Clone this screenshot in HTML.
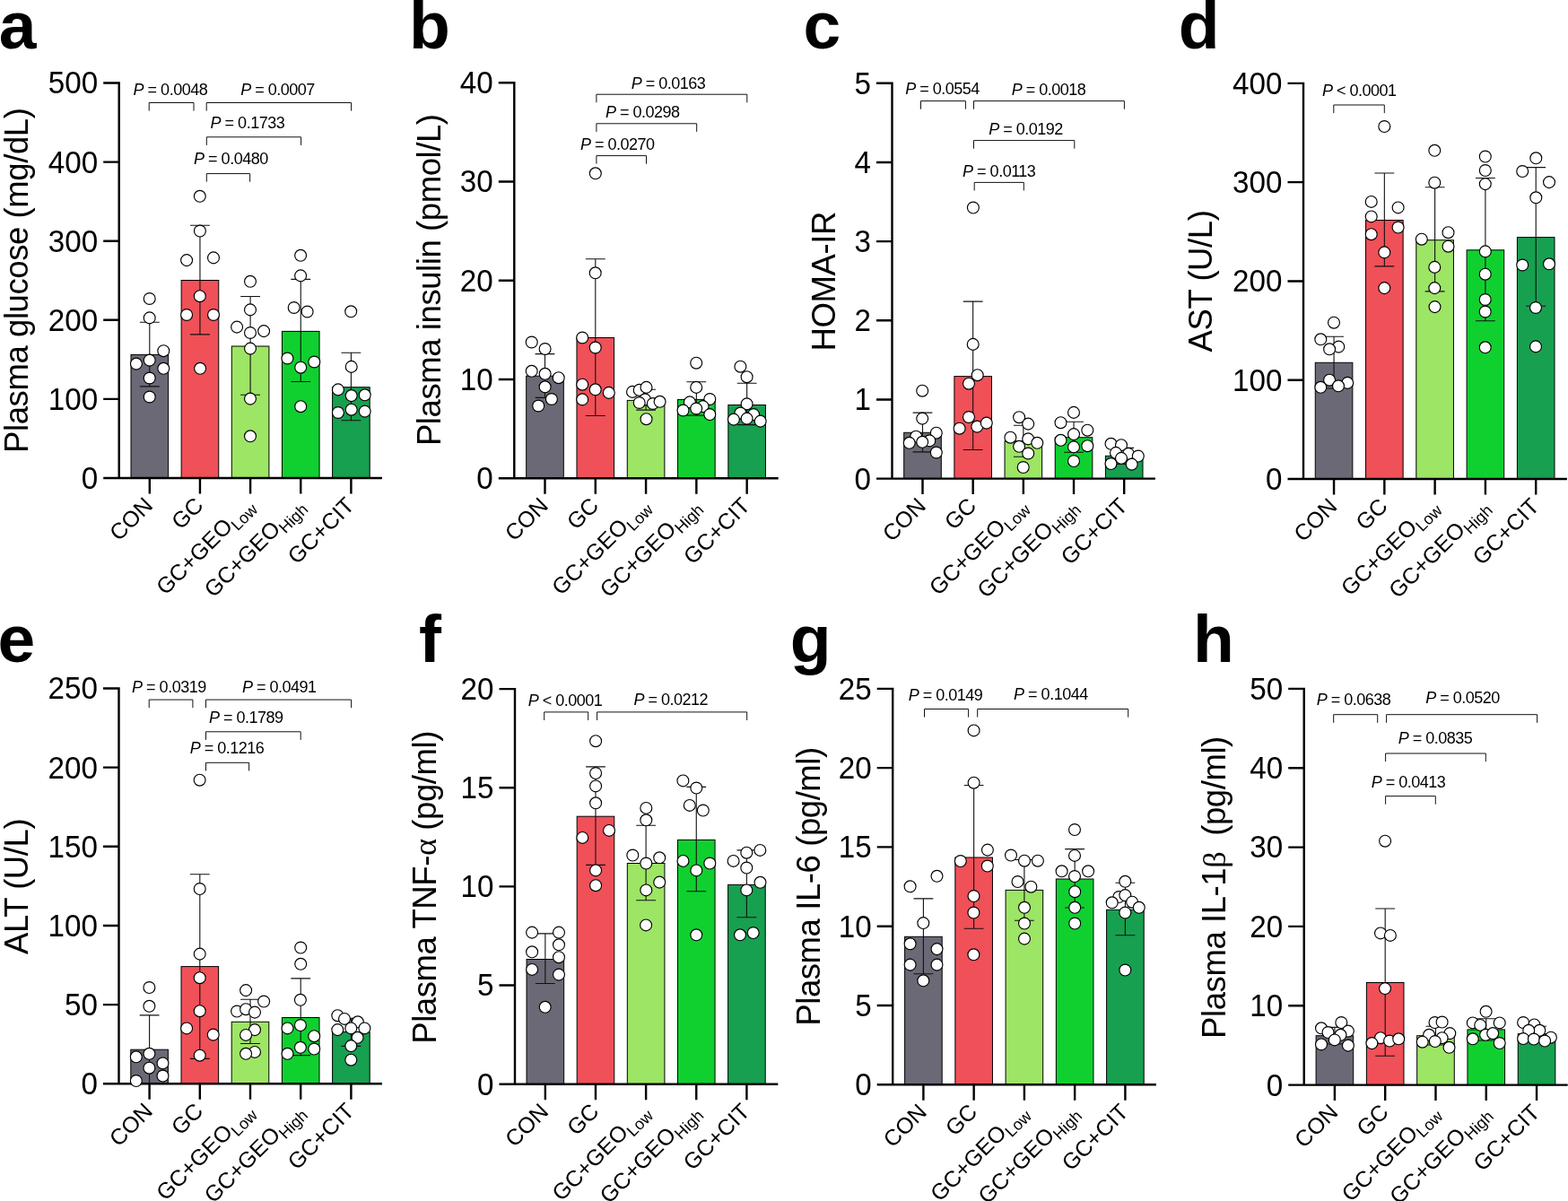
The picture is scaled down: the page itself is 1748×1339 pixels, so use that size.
<!DOCTYPE html><html><head><meta charset="utf-8"><title>Figure</title><style>
html,body{margin:0;padding:0;background:#fff;}body{width:1748px;height:1339px;overflow:hidden;}
svg{display:block;}text{font-family:'Liberation Sans', Arial, Helvetica, sans-serif;fill:#000;}
.tk{font-size:35.9px;text-anchor:end;}
.ti{font-size:36.5px;letter-spacing:-0.42px;}
.pv{font-size:18px;letter-spacing:-0.5px;}
.pv tspan.i{font-style:italic;}
.xl{font-size:25px;text-anchor:end;}
.lt{font-size:75px;font-weight:bold;}
.gk{font-family:"Liberation Serif","DejaVu Serif",serif;}
</style></head><body>
<svg width="1748" height="1339" viewBox="0 0 1748 1339">
<rect x="0" y="0" width="1748" height="1339" fill="#fff"/>
<g><text class="lt" x="-1.3" y="53.8">a</text><rect x="146" y="395.4" width="41.6" height="137.6" fill="#6a6975" stroke="#000" stroke-width="1"/><rect x="202.15" y="312.5" width="41.6" height="220.5" fill="#f05058" stroke="#000" stroke-width="1"/><rect x="258.3" y="386" width="41.6" height="147" fill="#9de564" stroke="#000" stroke-width="1"/><rect x="314.45" y="369.4" width="41.6" height="163.6" fill="#10d030" stroke="#000" stroke-width="1"/><rect x="370.6" y="431.7" width="41.6" height="101.3" fill="#17a050" stroke="#000" stroke-width="1"/><path d="M132.7 91.3V533M115.2 533H425.9M115.2 533H132.7M115.2 444.9H132.7M115.2 356.8H132.7M115.2 268.7H132.7M115.2 180.6H132.7M115.2 92.5H132.7M166.8 533V550.5M222.95 533V550.5M279.1 533V550.5M335.25 533V550.5M391.4 533V550.5" stroke="#000" stroke-width="2.4" fill="none" stroke-linecap="butt"/><path d="M166.8 359.3V430.9M155.9 359.3H177.7M155.9 430.9H177.7" stroke="#111" stroke-width="1.1" fill="none"/><path d="M222.95 251.3V372.9M212.05 251.3H233.85M212.05 372.9H233.85" stroke="#111" stroke-width="1.1" fill="none"/><path d="M279.1 330.5V440.3M268.2 330.5H290M268.2 440.3H290" stroke="#111" stroke-width="1.1" fill="none"/><path d="M335.25 311.4V425.5M324.35 311.4H346.15M324.35 425.5H346.15" stroke="#111" stroke-width="1.1" fill="none"/><path d="M391.4 393.3V468.8M380.5 393.3H402.3M380.5 468.8H402.3" stroke="#111" stroke-width="1.1" fill="none"/><circle fill="#fff" stroke="#000" stroke-width="1.15" cx="151.9" cy="405.6" r="6.45"/><circle fill="#fff" stroke="#000" stroke-width="1.15" cx="166.7" cy="333" r="6.45"/><circle fill="#fff" stroke="#000" stroke-width="1.15" cx="166.7" cy="354.4" r="6.45"/><circle fill="#fff" stroke="#000" stroke-width="1.15" cx="182.3" cy="391.2" r="6.45"/><circle fill="#fff" stroke="#000" stroke-width="1.15" cx="166.7" cy="401.6" r="6.45"/><circle fill="#fff" stroke="#000" stroke-width="1.15" cx="182.3" cy="410.8" r="6.45"/><circle fill="#fff" stroke="#000" stroke-width="1.15" cx="166.7" cy="421.5" r="6.45"/><circle fill="#fff" stroke="#000" stroke-width="1.15" cx="166.7" cy="442.5" r="6.45"/><circle fill="#fff" stroke="#000" stroke-width="1.15" cx="222.8" cy="218.8" r="6.45"/><circle fill="#fff" stroke="#000" stroke-width="1.15" cx="222.9" cy="257.5" r="6.45"/><circle fill="#fff" stroke="#000" stroke-width="1.15" cx="208.1" cy="290.1" r="6.45"/><circle fill="#fff" stroke="#000" stroke-width="1.15" cx="238" cy="287.4" r="6.45"/><circle fill="#fff" stroke="#000" stroke-width="1.15" cx="222.8" cy="330.2" r="6.45"/><circle fill="#fff" stroke="#000" stroke-width="1.15" cx="208.1" cy="351" r="6.45"/><circle fill="#fff" stroke="#000" stroke-width="1.15" cx="238" cy="351" r="6.45"/><circle fill="#fff" stroke="#000" stroke-width="1.15" cx="223.1" cy="410.8" r="6.45"/><circle fill="#fff" stroke="#000" stroke-width="1.15" cx="279" cy="313.8" r="6.45"/><circle fill="#fff" stroke="#000" stroke-width="1.15" cx="279" cy="345.4" r="6.45"/><circle fill="#fff" stroke="#000" stroke-width="1.15" cx="264.1" cy="364.6" r="6.45"/><circle fill="#fff" stroke="#000" stroke-width="1.15" cx="279" cy="371" r="6.45"/><circle fill="#fff" stroke="#000" stroke-width="1.15" cx="294.1" cy="369.1" r="6.45"/><circle fill="#fff" stroke="#000" stroke-width="1.15" cx="279" cy="388.6" r="6.45"/><circle fill="#fff" stroke="#000" stroke-width="1.15" cx="279" cy="444.6" r="6.45"/><circle fill="#fff" stroke="#000" stroke-width="1.15" cx="279" cy="486.3" r="6.45"/><circle fill="#fff" stroke="#000" stroke-width="1.15" cx="335.1" cy="284.8" r="6.45"/><circle fill="#fff" stroke="#000" stroke-width="1.15" cx="335.1" cy="307.4" r="6.45"/><circle fill="#fff" stroke="#000" stroke-width="1.15" cx="327.7" cy="343" r="6.45"/><circle fill="#fff" stroke="#000" stroke-width="1.15" cx="342.6" cy="347.5" r="6.45"/><circle fill="#fff" stroke="#000" stroke-width="1.15" cx="320.4" cy="399.5" r="6.45"/><circle fill="#fff" stroke="#000" stroke-width="1.15" cx="350.3" cy="403.5" r="6.45"/><circle fill="#fff" stroke="#000" stroke-width="1.15" cx="335.2" cy="409.7" r="6.45"/><circle fill="#fff" stroke="#000" stroke-width="1.15" cx="335.2" cy="453.2" r="6.45"/><circle fill="#fff" stroke="#000" stroke-width="1.15" cx="391.2" cy="347.3" r="6.45"/><circle fill="#fff" stroke="#000" stroke-width="1.15" cx="391.7" cy="408.9" r="6.45"/><circle fill="#fff" stroke="#000" stroke-width="1.15" cx="376.9" cy="434.4" r="6.45"/><circle fill="#fff" stroke="#000" stroke-width="1.15" cx="391.7" cy="441.1" r="6.45"/><circle fill="#fff" stroke="#000" stroke-width="1.15" cx="406.7" cy="440.3" r="6.45"/><circle fill="#fff" stroke="#000" stroke-width="1.15" cx="376.9" cy="460" r="6.45"/><circle fill="#fff" stroke="#000" stroke-width="1.15" cx="391.7" cy="456.7" r="6.45"/><circle fill="#fff" stroke="#000" stroke-width="1.15" cx="406.7" cy="458.6" r="6.45"/><text class="tk" transform="translate(109.1 544.9) scale(0.9246 1)">0</text><text class="tk" transform="translate(109.1 456.8) scale(0.9246 1)">100</text><text class="tk" transform="translate(109.1 368.7) scale(0.9246 1)">200</text><text class="tk" transform="translate(109.1 280.6) scale(0.9246 1)">300</text><text class="tk" transform="translate(109.1 192.5) scale(0.9246 1)">400</text><text class="tk" transform="translate(109.1 104.4) scale(0.9246 1)">500</text><path d="M166.2 123.6V114.5H216V123.6" stroke="#111" stroke-width="1.0" fill="none"/><text class="pv" x="148.6" y="105.8"><tspan class="i">P</tspan> = 0.0048</text><path d="M230.2 123.6V114.5H391.6V123.6" stroke="#111" stroke-width="1.0" fill="none"/><text class="pv" x="268.2" y="105.5"><tspan class="i">P</tspan> = 0.0007</text><path d="M230.3 161.9V152.8H335.6V161.9" stroke="#111" stroke-width="1.0" fill="none"/><text class="pv" x="234.6" y="143.2"><tspan class="i">P</tspan> = 0.1733</text><path d="M230.3 202.7V193.6H278.6V202.7" stroke="#111" stroke-width="1.0" fill="none"/><text class="pv" x="216.1" y="182.9"><tspan class="i">P</tspan> = 0.0480</text><text class="ti" transform="translate(31.1 504.9) rotate(-90)" x="0" y="0">Plasma glucose (mg/dL)</text><text class="xl" transform="translate(171.8 565) rotate(-45)">CON</text><text class="xl" transform="translate(227.95 565) rotate(-45)">GC</text><text class="xl" transform="translate(284.1 565) rotate(-45)">GC+GEO<tspan font-size="18" dy="6">Low</tspan></text><text class="xl" transform="translate(340.25 565) rotate(-45)">GC+GEO<tspan font-size="18" dy="6">High</tspan></text><text class="xl" transform="translate(396.4 565) rotate(-45)">GC+CIT</text></g>
<g><text class="lt" x="456.1" y="53.8">b</text><rect x="586.7" y="419.2" width="41.6" height="114.1" fill="#6a6975" stroke="#000" stroke-width="1"/><rect x="642.99" y="376.5" width="41.6" height="156.8" fill="#f05058" stroke="#000" stroke-width="1"/><rect x="699.28" y="446.4" width="41.6" height="86.9" fill="#9de564" stroke="#000" stroke-width="1"/><rect x="755.56" y="445.4" width="41.6" height="87.9" fill="#10d030" stroke="#000" stroke-width="1"/><rect x="811.85" y="451.5" width="41.6" height="81.8" fill="#17a050" stroke="#000" stroke-width="1"/><path d="M573.3 91.1V533.3M555.8 533.3H867.7M555.8 533.3H573.3M555.8 423.05H573.3M555.8 312.8H573.3M555.8 202.55H573.3M555.8 92.3H573.3M607.5 533.3V550.8M663.79 533.3V550.8M720.08 533.3V550.8M776.36 533.3V550.8M832.65 533.3V550.8" stroke="#000" stroke-width="2.4" fill="none" stroke-linecap="butt"/><path d="M607.5 394.6V443.4M596.6 394.6H618.4M596.6 443.4H618.4" stroke="#111" stroke-width="1.1" fill="none"/><path d="M663.79 288.8V463.5M652.89 288.8H674.69M652.89 463.5H674.69" stroke="#111" stroke-width="1.1" fill="none"/><path d="M720.08 434.3V457.1M709.18 434.3H730.98M709.18 457.1H730.98" stroke="#111" stroke-width="1.1" fill="none"/><path d="M776.36 425.8V463.1M765.46 425.8H787.26M765.46 463.1H787.26" stroke="#111" stroke-width="1.1" fill="none"/><path d="M832.65 427.3V473.6M821.75 427.3H843.55M821.75 473.6H843.55" stroke="#111" stroke-width="1.1" fill="none"/><circle fill="#fff" stroke="#000" stroke-width="1.15" cx="592.7" cy="381.5" r="6.45"/><circle fill="#fff" stroke="#000" stroke-width="1.15" cx="607.6" cy="389" r="6.45"/><circle fill="#fff" stroke="#000" stroke-width="1.15" cx="592.7" cy="413.8" r="6.45"/><circle fill="#fff" stroke="#000" stroke-width="1.15" cx="607.6" cy="416.8" r="6.45"/><circle fill="#fff" stroke="#000" stroke-width="1.15" cx="622.7" cy="421.2" r="6.45"/><circle fill="#fff" stroke="#000" stroke-width="1.15" cx="607.6" cy="431.3" r="6.45"/><circle fill="#fff" stroke="#000" stroke-width="1.15" cx="614.9" cy="445" r="6.45"/><circle fill="#fff" stroke="#000" stroke-width="1.15" cx="600.2" cy="452.5" r="6.45"/><circle fill="#fff" stroke="#000" stroke-width="1.15" cx="663.8" cy="193.3" r="6.45"/><circle fill="#fff" stroke="#000" stroke-width="1.15" cx="663.7" cy="304.3" r="6.45"/><circle fill="#fff" stroke="#000" stroke-width="1.15" cx="649.2" cy="376.5" r="6.45"/><circle fill="#fff" stroke="#000" stroke-width="1.15" cx="663.7" cy="387.5" r="6.45"/><circle fill="#fff" stroke="#000" stroke-width="1.15" cx="649.2" cy="428.7" r="6.45"/><circle fill="#fff" stroke="#000" stroke-width="1.15" cx="663.7" cy="434.3" r="6.45"/><circle fill="#fff" stroke="#000" stroke-width="1.15" cx="678.8" cy="437.9" r="6.45"/><circle fill="#fff" stroke="#000" stroke-width="1.15" cx="649.2" cy="445.4" r="6.45"/><circle fill="#fff" stroke="#000" stroke-width="1.15" cx="705" cy="436.9" r="6.45"/><circle fill="#fff" stroke="#000" stroke-width="1.15" cx="712.7" cy="434.9" r="6.45"/><circle fill="#fff" stroke="#000" stroke-width="1.15" cx="720.5" cy="431.9" r="6.45"/><circle fill="#fff" stroke="#000" stroke-width="1.15" cx="719.1" cy="445.4" r="6.45"/><circle fill="#fff" stroke="#000" stroke-width="1.15" cx="712.7" cy="449" r="6.45"/><circle fill="#fff" stroke="#000" stroke-width="1.15" cx="727.8" cy="450" r="6.45"/><circle fill="#fff" stroke="#000" stroke-width="1.15" cx="735.6" cy="447.8" r="6.45"/><circle fill="#fff" stroke="#000" stroke-width="1.15" cx="720.5" cy="467.2" r="6.45"/><circle fill="#fff" stroke="#000" stroke-width="1.15" cx="776.2" cy="404.7" r="6.45"/><circle fill="#fff" stroke="#000" stroke-width="1.15" cx="776.2" cy="431.9" r="6.45"/><circle fill="#fff" stroke="#000" stroke-width="1.15" cx="768.9" cy="448.4" r="6.45"/><circle fill="#fff" stroke="#000" stroke-width="1.15" cx="791.3" cy="445" r="6.45"/><circle fill="#fff" stroke="#000" stroke-width="1.15" cx="783.6" cy="453.1" r="6.45"/><circle fill="#fff" stroke="#000" stroke-width="1.15" cx="776.2" cy="455.5" r="6.45"/><circle fill="#fff" stroke="#000" stroke-width="1.15" cx="761.5" cy="457.5" r="6.45"/><circle fill="#fff" stroke="#000" stroke-width="1.15" cx="791.3" cy="462.1" r="6.45"/><circle fill="#fff" stroke="#000" stroke-width="1.15" cx="825.4" cy="408.7" r="6.45"/><circle fill="#fff" stroke="#000" stroke-width="1.15" cx="832.6" cy="420.2" r="6.45"/><circle fill="#fff" stroke="#000" stroke-width="1.15" cx="832.6" cy="450.4" r="6.45"/><circle fill="#fff" stroke="#000" stroke-width="1.15" cx="825.4" cy="460.5" r="6.45"/><circle fill="#fff" stroke="#000" stroke-width="1.15" cx="840.1" cy="462.1" r="6.45"/><circle fill="#fff" stroke="#000" stroke-width="1.15" cx="832.6" cy="466.6" r="6.45"/><circle fill="#fff" stroke="#000" stroke-width="1.15" cx="817.9" cy="467.6" r="6.45"/><circle fill="#fff" stroke="#000" stroke-width="1.15" cx="847.7" cy="469.6" r="6.45"/><text class="tk" transform="translate(549.7 545.2) scale(0.9246 1)">0</text><text class="tk" transform="translate(549.7 434.95) scale(0.9246 1)">10</text><text class="tk" transform="translate(549.7 324.7) scale(0.9246 1)">20</text><text class="tk" transform="translate(549.7 214.45) scale(0.9246 1)">30</text><text class="tk" transform="translate(549.7 104.2) scale(0.9246 1)">40</text><path d="M664.9 114.3V105.2H832.8V114.3" stroke="#111" stroke-width="1.0" fill="none"/><text class="pv" x="703.8" y="99.3"><tspan class="i">P</tspan> = 0.0163</text><path d="M664.9 146.9V137.8H776.7V146.9" stroke="#111" stroke-width="1.0" fill="none"/><text class="pv" x="675" y="131.3"><tspan class="i">P</tspan> = 0.0298</text><path d="M664.9 182.7V173.6H720.5V182.7" stroke="#111" stroke-width="1.0" fill="none"/><text class="pv" x="647" y="166.6"><tspan class="i">P</tspan> = 0.0270</text><text class="ti" transform="translate(490.9 497.1) rotate(-90)" x="0" y="0">Plasma insulin (pmol/L)</text><text class="xl" transform="translate(612.5 565.3) rotate(-45)">CON</text><text class="xl" transform="translate(668.79 565.3) rotate(-45)">GC</text><text class="xl" transform="translate(725.08 565.3) rotate(-45)">GC+GEO<tspan font-size="18" dy="6">Low</tspan></text><text class="xl" transform="translate(781.36 565.3) rotate(-45)">GC+GEO<tspan font-size="18" dy="6">High</tspan></text><text class="xl" transform="translate(837.65 565.3) rotate(-45)">GC+CIT</text></g>
<g><text class="lt" x="895.5" y="53.8">c</text><rect x="1007.7" y="482.3" width="41.6" height="51.3" fill="#6a6975" stroke="#000" stroke-width="1"/><rect x="1063.88" y="419.6" width="41.6" height="114" fill="#f05058" stroke="#000" stroke-width="1"/><rect x="1120.05" y="491.8" width="41.6" height="41.8" fill="#9de564" stroke="#000" stroke-width="1"/><rect x="1176.23" y="487.7" width="41.6" height="45.9" fill="#10d030" stroke="#000" stroke-width="1"/><rect x="1232.4" y="508.3" width="41.6" height="25.3" fill="#17a050" stroke="#000" stroke-width="1"/><path d="M994.5 91.6V533.6M977 533.6H1287.9M977 533.6H994.5M977 445.44H994.5M977 357.28H994.5M977 269.12H994.5M977 180.96H994.5M977 92.8H994.5M1028.5 533.6V551.1M1084.67 533.6V551.1M1140.85 533.6V551.1M1197.03 533.6V551.1M1253.2 533.6V551.1" stroke="#000" stroke-width="2.4" fill="none" stroke-linecap="butt"/><path d="M1028.5 460.1V503.9M1017.6 460.1H1039.4M1017.6 503.9H1039.4" stroke="#111" stroke-width="1.1" fill="none"/><path d="M1084.67 336.1V501.5M1073.77 336.1H1095.58M1073.77 501.5H1095.58" stroke="#111" stroke-width="1.1" fill="none"/><path d="M1140.85 474.2V509.3M1129.95 474.2H1151.75M1129.95 509.3H1151.75" stroke="#111" stroke-width="1.1" fill="none"/><path d="M1197.03 470.2V504.3M1186.12 470.2H1207.93M1186.12 504.3H1207.93" stroke="#111" stroke-width="1.1" fill="none"/><path d="M1253.2 499.4V517.5M1242.3 499.4H1264.1M1242.3 517.5H1264.1" stroke="#111" stroke-width="1.1" fill="none"/><circle fill="#fff" stroke="#000" stroke-width="1.15" cx="1028.2" cy="435.7" r="6.45"/><circle fill="#fff" stroke="#000" stroke-width="1.15" cx="1028.2" cy="466.6" r="6.45"/><circle fill="#fff" stroke="#000" stroke-width="1.15" cx="1043.8" cy="482.7" r="6.45"/><circle fill="#fff" stroke="#000" stroke-width="1.15" cx="1021.2" cy="486.7" r="6.45"/><circle fill="#fff" stroke="#000" stroke-width="1.15" cx="1036.3" cy="491.4" r="6.45"/><circle fill="#fff" stroke="#000" stroke-width="1.15" cx="1013.7" cy="493.8" r="6.45"/><circle fill="#fff" stroke="#000" stroke-width="1.15" cx="1028.2" cy="492.8" r="6.45"/><circle fill="#fff" stroke="#000" stroke-width="1.15" cx="1043.8" cy="504.5" r="6.45"/><circle fill="#fff" stroke="#000" stroke-width="1.15" cx="1084.9" cy="231.5" r="6.45"/><circle fill="#fff" stroke="#000" stroke-width="1.15" cx="1084.7" cy="383.9" r="6.45"/><circle fill="#fff" stroke="#000" stroke-width="1.15" cx="1089.7" cy="418.2" r="6.45"/><circle fill="#fff" stroke="#000" stroke-width="1.15" cx="1080" cy="427.7" r="6.45"/><circle fill="#fff" stroke="#000" stroke-width="1.15" cx="1080" cy="465" r="6.45"/><circle fill="#fff" stroke="#000" stroke-width="1.15" cx="1069.6" cy="477.7" r="6.45"/><circle fill="#fff" stroke="#000" stroke-width="1.15" cx="1089.3" cy="475.6" r="6.45"/><circle fill="#fff" stroke="#000" stroke-width="1.15" cx="1099.8" cy="471.6" r="6.45"/><circle fill="#fff" stroke="#000" stroke-width="1.15" cx="1136.1" cy="465.2" r="6.45"/><circle fill="#fff" stroke="#000" stroke-width="1.15" cx="1146.2" cy="472.6" r="6.45"/><circle fill="#fff" stroke="#000" stroke-width="1.15" cx="1126.4" cy="487.7" r="6.45"/><circle fill="#fff" stroke="#000" stroke-width="1.15" cx="1146.2" cy="489.4" r="6.45"/><circle fill="#fff" stroke="#000" stroke-width="1.15" cx="1156.3" cy="493.8" r="6.45"/><circle fill="#fff" stroke="#000" stroke-width="1.15" cx="1136.1" cy="497.8" r="6.45"/><circle fill="#fff" stroke="#000" stroke-width="1.15" cx="1146.2" cy="505.5" r="6.45"/><circle fill="#fff" stroke="#000" stroke-width="1.15" cx="1140.7" cy="521" r="6.45"/><circle fill="#fff" stroke="#000" stroke-width="1.15" cx="1197" cy="459.9" r="6.45"/><circle fill="#fff" stroke="#000" stroke-width="1.15" cx="1182.5" cy="471.2" r="6.45"/><circle fill="#fff" stroke="#000" stroke-width="1.15" cx="1212.3" cy="479.7" r="6.45"/><circle fill="#fff" stroke="#000" stroke-width="1.15" cx="1197" cy="484.1" r="6.45"/><circle fill="#fff" stroke="#000" stroke-width="1.15" cx="1182.5" cy="490.8" r="6.45"/><circle fill="#fff" stroke="#000" stroke-width="1.15" cx="1197" cy="498.4" r="6.45"/><circle fill="#fff" stroke="#000" stroke-width="1.15" cx="1212.3" cy="497.2" r="6.45"/><circle fill="#fff" stroke="#000" stroke-width="1.15" cx="1197" cy="514" r="6.45"/><circle fill="#fff" stroke="#000" stroke-width="1.15" cx="1238.5" cy="494.8" r="6.45"/><circle fill="#fff" stroke="#000" stroke-width="1.15" cx="1250" cy="496.2" r="6.45"/><circle fill="#fff" stroke="#000" stroke-width="1.15" cx="1244" cy="504.9" r="6.45"/><circle fill="#fff" stroke="#000" stroke-width="1.15" cx="1258" cy="505.9" r="6.45"/><circle fill="#fff" stroke="#000" stroke-width="1.15" cx="1268.8" cy="508.5" r="6.45"/><circle fill="#fff" stroke="#000" stroke-width="1.15" cx="1250" cy="510.9" r="6.45"/><circle fill="#fff" stroke="#000" stroke-width="1.15" cx="1238.5" cy="517" r="6.45"/><circle fill="#fff" stroke="#000" stroke-width="1.15" cx="1261.7" cy="517.6" r="6.45"/><text class="tk" transform="translate(970.9 545.5) scale(0.9246 1)">0</text><text class="tk" transform="translate(970.9 457.34) scale(0.9246 1)">1</text><text class="tk" transform="translate(970.9 369.18) scale(0.9246 1)">2</text><text class="tk" transform="translate(970.9 281.02) scale(0.9246 1)">3</text><text class="tk" transform="translate(970.9 192.86) scale(0.9246 1)">4</text><text class="tk" transform="translate(970.9 104.7) scale(0.9246 1)">5</text><path d="M1026.5 121.7V112.6H1076.4V121.7" stroke="#111" stroke-width="1.0" fill="none"/><text class="pv" x="1009.3" y="104.9"><tspan class="i">P</tspan> = 0.0554</text><path d="M1085.5 121.7V112.6H1253.4V121.7" stroke="#111" stroke-width="1.0" fill="none"/><text class="pv" x="1127.8" y="106"><tspan class="i">P</tspan> = 0.0018</text><path d="M1085.5 165.7V156.6H1197.8V165.7" stroke="#111" stroke-width="1.0" fill="none"/><text class="pv" x="1102.2" y="150.1"><tspan class="i">P</tspan> = 0.0192</text><path d="M1086.2 212.5V203.4H1141.3V212.5" stroke="#111" stroke-width="1.0" fill="none"/><text class="pv" x="1073.1" y="197.3"><tspan class="i">P</tspan> = 0.0113</text><text class="ti" transform="translate(931.1 391.4) rotate(-90)" x="0" y="0">HOMA-IR</text><text class="xl" transform="translate(1033.5 565.6) rotate(-45)">CON</text><text class="xl" transform="translate(1089.67 565.6) rotate(-45)">GC</text><text class="xl" transform="translate(1145.85 565.6) rotate(-45)">GC+GEO<tspan font-size="18" dy="6">Low</tspan></text><text class="xl" transform="translate(1202.03 565.6) rotate(-45)">GC+GEO<tspan font-size="18" dy="6">High</tspan></text><text class="xl" transform="translate(1258.2 565.6) rotate(-45)">GC+CIT</text></g>
<g><text class="lt" x="1313.7" y="53.8">d</text><rect x="1466.25" y="404.3" width="41.6" height="129.7" fill="#6a6975" stroke="#000" stroke-width="1"/><rect x="1522.54" y="245.5" width="41.6" height="288.5" fill="#f05058" stroke="#000" stroke-width="1"/><rect x="1578.83" y="267.7" width="41.6" height="266.3" fill="#9de564" stroke="#000" stroke-width="1"/><rect x="1635.11" y="278.8" width="41.6" height="255.2" fill="#10d030" stroke="#000" stroke-width="1"/><rect x="1691.4" y="264.6" width="41.6" height="269.4" fill="#17a050" stroke="#000" stroke-width="1"/><path d="M1453 91.7V534M1435.5 534H1746.9M1435.5 534H1453M1435.5 423.73H1453M1435.5 313.45H1453M1435.5 203.17H1453M1435.5 92.9H1453M1487.05 534V551.5M1543.34 534V551.5M1599.62 534V551.5M1655.91 534V551.5M1712.2 534V551.5" stroke="#000" stroke-width="2.4" fill="none" stroke-linecap="butt"/><path d="M1487.05 375.3V433M1476.15 375.3H1497.95M1476.15 433H1497.95" stroke="#111" stroke-width="1.1" fill="none"/><path d="M1543.34 193V296.9M1532.44 193H1554.24M1532.44 296.9H1554.24" stroke="#111" stroke-width="1.1" fill="none"/><path d="M1599.62 208.8V324.9M1588.72 208.8H1610.53M1588.72 324.9H1610.53" stroke="#111" stroke-width="1.1" fill="none"/><path d="M1655.91 198.5V357.7M1645.01 198.5H1666.81M1645.01 357.7H1666.81" stroke="#111" stroke-width="1.1" fill="none"/><path d="M1712.2 186.6V341.2M1701.3 186.6H1723.1M1701.3 341.2H1723.1" stroke="#111" stroke-width="1.1" fill="none"/><circle fill="#fff" stroke="#000" stroke-width="1.15" cx="1487" cy="359.7" r="6.45"/><circle fill="#fff" stroke="#000" stroke-width="1.15" cx="1472.3" cy="378.3" r="6.45"/><circle fill="#fff" stroke="#000" stroke-width="1.15" cx="1492.3" cy="386.6" r="6.45"/><circle fill="#fff" stroke="#000" stroke-width="1.15" cx="1482.1" cy="389.3" r="6.45"/><circle fill="#fff" stroke="#000" stroke-width="1.15" cx="1482.1" cy="423.7" r="6.45"/><circle fill="#fff" stroke="#000" stroke-width="1.15" cx="1502.2" cy="426.9" r="6.45"/><circle fill="#fff" stroke="#000" stroke-width="1.15" cx="1472.3" cy="431.8" r="6.45"/><circle fill="#fff" stroke="#000" stroke-width="1.15" cx="1492" cy="430.3" r="6.45"/><circle fill="#fff" stroke="#000" stroke-width="1.15" cx="1543.3" cy="141" r="6.45"/><circle fill="#fff" stroke="#000" stroke-width="1.15" cx="1528.7" cy="224.9" r="6.45"/><circle fill="#fff" stroke="#000" stroke-width="1.15" cx="1558.6" cy="231.4" r="6.45"/><circle fill="#fff" stroke="#000" stroke-width="1.15" cx="1528.7" cy="241.4" r="6.45"/><circle fill="#fff" stroke="#000" stroke-width="1.15" cx="1558.6" cy="253.5" r="6.45"/><circle fill="#fff" stroke="#000" stroke-width="1.15" cx="1528.7" cy="261.2" r="6.45"/><circle fill="#fff" stroke="#000" stroke-width="1.15" cx="1543.3" cy="281.4" r="6.45"/><circle fill="#fff" stroke="#000" stroke-width="1.15" cx="1543.3" cy="321.1" r="6.45"/><circle fill="#fff" stroke="#000" stroke-width="1.15" cx="1599.3" cy="167.8" r="6.45"/><circle fill="#fff" stroke="#000" stroke-width="1.15" cx="1599.3" cy="203.7" r="6.45"/><circle fill="#fff" stroke="#000" stroke-width="1.15" cx="1614.5" cy="259.2" r="6.45"/><circle fill="#fff" stroke="#000" stroke-width="1.15" cx="1584.8" cy="266.7" r="6.45"/><circle fill="#fff" stroke="#000" stroke-width="1.15" cx="1614.5" cy="274.7" r="6.45"/><circle fill="#fff" stroke="#000" stroke-width="1.15" cx="1599.3" cy="297.9" r="6.45"/><circle fill="#fff" stroke="#000" stroke-width="1.15" cx="1599.3" cy="321.1" r="6.45"/><circle fill="#fff" stroke="#000" stroke-width="1.15" cx="1599.5" cy="342.1" r="6.45"/><circle fill="#fff" stroke="#000" stroke-width="1.15" cx="1655.8" cy="174.5" r="6.45"/><circle fill="#fff" stroke="#000" stroke-width="1.15" cx="1655.8" cy="190" r="6.45"/><circle fill="#fff" stroke="#000" stroke-width="1.15" cx="1655.8" cy="205.1" r="6.45"/><circle fill="#fff" stroke="#000" stroke-width="1.15" cx="1655.8" cy="280.4" r="6.45"/><circle fill="#fff" stroke="#000" stroke-width="1.15" cx="1655.7" cy="305.7" r="6.45"/><circle fill="#fff" stroke="#000" stroke-width="1.15" cx="1655.7" cy="334" r="6.45"/><circle fill="#fff" stroke="#000" stroke-width="1.15" cx="1655.7" cy="347.5" r="6.45"/><circle fill="#fff" stroke="#000" stroke-width="1.15" cx="1655.7" cy="387.3" r="6.45"/><circle fill="#fff" stroke="#000" stroke-width="1.15" cx="1712.3" cy="176.3" r="6.45"/><circle fill="#fff" stroke="#000" stroke-width="1.15" cx="1697.2" cy="191" r="6.45"/><circle fill="#fff" stroke="#000" stroke-width="1.15" cx="1727" cy="203.1" r="6.45"/><circle fill="#fff" stroke="#000" stroke-width="1.15" cx="1712.3" cy="220.3" r="6.45"/><circle fill="#fff" stroke="#000" stroke-width="1.15" cx="1697.2" cy="295.5" r="6.45"/><circle fill="#fff" stroke="#000" stroke-width="1.15" cx="1727" cy="294.3" r="6.45"/><circle fill="#fff" stroke="#000" stroke-width="1.15" cx="1712" cy="343" r="6.45"/><circle fill="#fff" stroke="#000" stroke-width="1.15" cx="1712" cy="386.4" r="6.45"/><text class="tk" transform="translate(1429.4 545.9) scale(0.9246 1)">0</text><text class="tk" transform="translate(1429.4 435.62) scale(0.9246 1)">100</text><text class="tk" transform="translate(1429.4 325.35) scale(0.9246 1)">200</text><text class="tk" transform="translate(1429.4 215.07) scale(0.9246 1)">300</text><text class="tk" transform="translate(1429.4 104.8) scale(0.9246 1)">400</text><path d="M1486.8 126.1V117H1543.3V126.1" stroke="#111" stroke-width="1.0" fill="none"/><text class="pv" x="1474" y="107.3"><tspan class="i">P</tspan> &lt; 0.0001</text><text class="ti" transform="translate(1351 392.4) rotate(-90)" x="0" y="0">AST (U/L)</text><text class="xl" transform="translate(1492.05 566) rotate(-45)">CON</text><text class="xl" transform="translate(1548.34 566) rotate(-45)">GC</text><text class="xl" transform="translate(1604.62 566) rotate(-45)">GC+GEO<tspan font-size="18" dy="6">Low</tspan></text><text class="xl" transform="translate(1660.91 566) rotate(-45)">GC+GEO<tspan font-size="18" dy="6">High</tspan></text><text class="xl" transform="translate(1717.2 566) rotate(-45)">GC+CIT</text></g>
<g><text class="lt" x="-2.5" y="737.9">e</text><rect x="145.8" y="1170.2" width="41.6" height="38.1" fill="#6a6975" stroke="#000" stroke-width="1"/><rect x="202" y="1077.6" width="41.6" height="130.7" fill="#f05058" stroke="#000" stroke-width="1"/><rect x="258.2" y="1139.3" width="41.6" height="69" fill="#9de564" stroke="#000" stroke-width="1"/><rect x="314.4" y="1134.5" width="41.6" height="73.8" fill="#10d030" stroke="#000" stroke-width="1"/><rect x="370.6" y="1150.6" width="41.6" height="57.7" fill="#17a050" stroke="#000" stroke-width="1"/><path d="M132.5 766.3V1208.3M115 1208.3H425.9M115 1208.3H132.5M115 1120.14H132.5M115 1031.98H132.5M115 943.82H132.5M115 855.66H132.5M115 767.5H132.5M166.6 1208.3V1225.8M222.8 1208.3V1225.8M279 1208.3V1225.8M335.2 1208.3V1225.8M391.4 1208.3V1225.8" stroke="#000" stroke-width="2.4" fill="none" stroke-linecap="butt"/><path d="M166.6 1131.9V1208.3M155.7 1131.9H177.5M155.7 1208.3H177.5" stroke="#111" stroke-width="1.1" fill="none"/><path d="M222.8 974.7V1180.4M211.9 974.7H233.7M211.9 1180.4H233.7" stroke="#111" stroke-width="1.1" fill="none"/><path d="M279 1114.3V1163.5M268.1 1114.3H289.9M268.1 1163.5H289.9" stroke="#111" stroke-width="1.1" fill="none"/><path d="M335.2 1090.9V1176.6M324.3 1090.9H346.1M324.3 1176.6H346.1" stroke="#111" stroke-width="1.1" fill="none"/><path d="M391.4 1135.4V1166.4M380.5 1135.4H402.3M380.5 1166.4H402.3" stroke="#111" stroke-width="1.1" fill="none"/><circle fill="#fff" stroke="#000" stroke-width="1.15" cx="166.4" cy="1101" r="6.45"/><circle fill="#fff" stroke="#000" stroke-width="1.15" cx="166.4" cy="1121.8" r="6.45"/><circle fill="#fff" stroke="#000" stroke-width="1.15" cx="151.8" cy="1178.3" r="6.45"/><circle fill="#fff" stroke="#000" stroke-width="1.15" cx="166.4" cy="1174.8" r="6.45"/><circle fill="#fff" stroke="#000" stroke-width="1.15" cx="181.5" cy="1185.4" r="6.45"/><circle fill="#fff" stroke="#000" stroke-width="1.15" cx="166.4" cy="1190.7" r="6.45"/><circle fill="#fff" stroke="#000" stroke-width="1.15" cx="181.5" cy="1199.5" r="6.45"/><circle fill="#fff" stroke="#000" stroke-width="1.15" cx="151.8" cy="1205" r="6.45"/><circle fill="#fff" stroke="#000" stroke-width="1.15" cx="222.6" cy="869.7" r="6.45"/><circle fill="#fff" stroke="#000" stroke-width="1.15" cx="222.7" cy="991" r="6.45"/><circle fill="#fff" stroke="#000" stroke-width="1.15" cx="222.7" cy="1063.6" r="6.45"/><circle fill="#fff" stroke="#000" stroke-width="1.15" cx="222.7" cy="1090.2" r="6.45"/><circle fill="#fff" stroke="#000" stroke-width="1.15" cx="222.7" cy="1127.2" r="6.45"/><circle fill="#fff" stroke="#000" stroke-width="1.15" cx="208.1" cy="1146.4" r="6.45"/><circle fill="#fff" stroke="#000" stroke-width="1.15" cx="237.7" cy="1153.6" r="6.45"/><circle fill="#fff" stroke="#000" stroke-width="1.15" cx="222.7" cy="1176.7" r="6.45"/><circle fill="#fff" stroke="#000" stroke-width="1.15" cx="274.1" cy="1104.1" r="6.45"/><circle fill="#fff" stroke="#000" stroke-width="1.15" cx="294.1" cy="1116.5" r="6.45"/><circle fill="#fff" stroke="#000" stroke-width="1.15" cx="264.1" cy="1127.5" r="6.45"/><circle fill="#fff" stroke="#000" stroke-width="1.15" cx="274.1" cy="1125.2" r="6.45"/><circle fill="#fff" stroke="#000" stroke-width="1.15" cx="284" cy="1128.6" r="6.45"/><circle fill="#fff" stroke="#000" stroke-width="1.15" cx="284" cy="1148.1" r="6.45"/><circle fill="#fff" stroke="#000" stroke-width="1.15" cx="274.1" cy="1153.9" r="6.45"/><circle fill="#fff" stroke="#000" stroke-width="1.15" cx="284" cy="1172.9" r="6.45"/><circle fill="#fff" stroke="#000" stroke-width="1.15" cx="274.1" cy="1174.8" r="6.45"/><circle fill="#fff" stroke="#000" stroke-width="1.15" cx="335.2" cy="1056.5" r="6.45"/><circle fill="#fff" stroke="#000" stroke-width="1.15" cx="335.2" cy="1074.8" r="6.45"/><circle fill="#fff" stroke="#000" stroke-width="1.15" cx="334.9" cy="1114.8" r="6.45"/><circle fill="#fff" stroke="#000" stroke-width="1.15" cx="320.5" cy="1146.4" r="6.45"/><circle fill="#fff" stroke="#000" stroke-width="1.15" cx="334.9" cy="1143" r="6.45"/><circle fill="#fff" stroke="#000" stroke-width="1.15" cx="350.2" cy="1155.2" r="6.45"/><circle fill="#fff" stroke="#000" stroke-width="1.15" cx="334.9" cy="1167.8" r="6.45"/><circle fill="#fff" stroke="#000" stroke-width="1.15" cx="350.2" cy="1169.5" r="6.45"/><circle fill="#fff" stroke="#000" stroke-width="1.15" cx="320.5" cy="1174.8" r="6.45"/><circle fill="#fff" stroke="#000" stroke-width="1.15" cx="376.3" cy="1132.2" r="6.45"/><circle fill="#fff" stroke="#000" stroke-width="1.15" cx="384" cy="1135.9" r="6.45"/><circle fill="#fff" stroke="#000" stroke-width="1.15" cx="398.8" cy="1139.3" r="6.45"/><circle fill="#fff" stroke="#000" stroke-width="1.15" cx="376.3" cy="1148.1" r="6.45"/><circle fill="#fff" stroke="#000" stroke-width="1.15" cx="391.3" cy="1146.4" r="6.45"/><circle fill="#fff" stroke="#000" stroke-width="1.15" cx="406.4" cy="1146.4" r="6.45"/><circle fill="#fff" stroke="#000" stroke-width="1.15" cx="398.6" cy="1156.8" r="6.45"/><circle fill="#fff" stroke="#000" stroke-width="1.15" cx="391.3" cy="1166.1" r="6.45"/><circle fill="#fff" stroke="#000" stroke-width="1.15" cx="391.3" cy="1181.7" r="6.45"/><text class="tk" transform="translate(108.9 1220.2) scale(0.9246 1)">0</text><text class="tk" transform="translate(108.9 1132.04) scale(0.9246 1)">50</text><text class="tk" transform="translate(108.9 1043.88) scale(0.9246 1)">100</text><text class="tk" transform="translate(108.9 955.72) scale(0.9246 1)">150</text><text class="tk" transform="translate(108.9 867.56) scale(0.9246 1)">200</text><text class="tk" transform="translate(108.9 779.4) scale(0.9246 1)">250</text><path d="M166.2 789.2V780.1H214.9V789.2" stroke="#111" stroke-width="1.0" fill="none"/><text class="pv" x="147.1" y="771.5"><tspan class="i">P</tspan> = 0.0319</text><path d="M229.5 789.2V780.1H391.6V789.2" stroke="#111" stroke-width="1.0" fill="none"/><text class="pv" x="269.9" y="771.5"><tspan class="i">P</tspan> = 0.0491</text><path d="M229.5 824.9V815.8H335.2V824.9" stroke="#111" stroke-width="1.0" fill="none"/><text class="pv" x="232.9" y="806"><tspan class="i">P</tspan> = 0.1789</text><path d="M229.5 859.4V850.3H277.6V859.4" stroke="#111" stroke-width="1.0" fill="none"/><text class="pv" x="211.8" y="840.4"><tspan class="i">P</tspan> = 0.1216</text><text class="ti" transform="translate(31.4 1063.9) rotate(-90)" x="0" y="0">ALT (U/L)</text><text class="xl" transform="translate(171.6 1240.3) rotate(-45)">CON</text><text class="xl" transform="translate(227.8 1240.3) rotate(-45)">GC</text><text class="xl" transform="translate(284 1240.3) rotate(-45)">GC+GEO<tspan font-size="18" dy="6">Low</tspan></text><text class="xl" transform="translate(340.2 1240.3) rotate(-45)">GC+GEO<tspan font-size="18" dy="6">High</tspan></text><text class="xl" transform="translate(396.4 1240.3) rotate(-45)">GC+CIT</text></g>
<g><text class="lt" x="467" y="737.7">f</text><rect x="587.05" y="1069.5" width="41.6" height="139.2" fill="#6a6975" stroke="#000" stroke-width="1"/><rect x="643.19" y="910.2" width="41.6" height="298.5" fill="#f05058" stroke="#000" stroke-width="1"/><rect x="699.33" y="962.5" width="41.6" height="246.2" fill="#9de564" stroke="#000" stroke-width="1"/><rect x="755.46" y="936.4" width="41.6" height="272.3" fill="#10d030" stroke="#000" stroke-width="1"/><rect x="811.6" y="986.4" width="41.6" height="222.3" fill="#17a050" stroke="#000" stroke-width="1"/><path d="M574 766.9V1208.7M556.5 1208.7H867.3M556.5 1208.7H574M556.5 1098.55H574M556.5 988.4H574M556.5 878.25H574M556.5 768.1H574M607.85 1208.7V1226.2M663.99 1208.7V1226.2M720.12 1208.7V1226.2M776.26 1208.7V1226.2M832.4 1208.7V1226.2" stroke="#000" stroke-width="2.4" fill="none" stroke-linecap="butt"/><path d="M607.85 1040.9V1096.5M596.95 1040.9H618.75M596.95 1096.5H618.75" stroke="#111" stroke-width="1.1" fill="none"/><path d="M663.99 854.9V964.4M653.09 854.9H674.89M653.09 964.4H674.89" stroke="#111" stroke-width="1.1" fill="none"/><path d="M720.12 920.3V1003.8M709.23 920.3H731.02M709.23 1003.8H731.02" stroke="#111" stroke-width="1.1" fill="none"/><path d="M776.26 877.4V993.8M765.36 877.4H787.16M765.36 993.8H787.16" stroke="#111" stroke-width="1.1" fill="none"/><path d="M832.4 947.9V1022.8M821.5 947.9H843.3M821.5 1022.8H843.3" stroke="#111" stroke-width="1.1" fill="none"/><circle fill="#fff" stroke="#000" stroke-width="1.15" cx="593.1" cy="1039.6" r="6.45"/><circle fill="#fff" stroke="#000" stroke-width="1.15" cx="623" cy="1039.6" r="6.45"/><circle fill="#fff" stroke="#000" stroke-width="1.15" cx="623" cy="1053.3" r="6.45"/><circle fill="#fff" stroke="#000" stroke-width="1.15" cx="593.1" cy="1061.3" r="6.45"/><circle fill="#fff" stroke="#000" stroke-width="1.15" cx="623" cy="1067.2" r="6.45"/><circle fill="#fff" stroke="#000" stroke-width="1.15" cx="593.1" cy="1080.9" r="6.45"/><circle fill="#fff" stroke="#000" stroke-width="1.15" cx="623" cy="1086.6" r="6.45"/><circle fill="#fff" stroke="#000" stroke-width="1.15" cx="607.7" cy="1122.8" r="6.45"/><circle fill="#fff" stroke="#000" stroke-width="1.15" cx="664.1" cy="826.2" r="6.45"/><circle fill="#fff" stroke="#000" stroke-width="1.15" cx="664.1" cy="862" r="6.45"/><circle fill="#fff" stroke="#000" stroke-width="1.15" cx="664.1" cy="876.4" r="6.45"/><circle fill="#fff" stroke="#000" stroke-width="1.15" cx="664.1" cy="895.3" r="6.45"/><circle fill="#fff" stroke="#000" stroke-width="1.15" cx="649.3" cy="933.9" r="6.45"/><circle fill="#fff" stroke="#000" stroke-width="1.15" cx="679" cy="925.9" r="6.45"/><circle fill="#fff" stroke="#000" stroke-width="1.15" cx="664.1" cy="970.4" r="6.45"/><circle fill="#fff" stroke="#000" stroke-width="1.15" cx="664.1" cy="987.2" r="6.45"/><circle fill="#fff" stroke="#000" stroke-width="1.15" cx="720.3" cy="900.9" r="6.45"/><circle fill="#fff" stroke="#000" stroke-width="1.15" cx="720.3" cy="914.3" r="6.45"/><circle fill="#fff" stroke="#000" stroke-width="1.15" cx="705.3" cy="953.5" r="6.45"/><circle fill="#fff" stroke="#000" stroke-width="1.15" cx="735.2" cy="956.3" r="6.45"/><circle fill="#fff" stroke="#000" stroke-width="1.15" cx="720.3" cy="962.5" r="6.45"/><circle fill="#fff" stroke="#000" stroke-width="1.15" cx="735.2" cy="983.6" r="6.45"/><circle fill="#fff" stroke="#000" stroke-width="1.15" cx="720.3" cy="992.4" r="6.45"/><circle fill="#fff" stroke="#000" stroke-width="1.15" cx="720.1" cy="1031.4" r="6.45"/><circle fill="#fff" stroke="#000" stroke-width="1.15" cx="761.4" cy="870.4" r="6.45"/><circle fill="#fff" stroke="#000" stroke-width="1.15" cx="776.3" cy="878.5" r="6.45"/><circle fill="#fff" stroke="#000" stroke-width="1.15" cx="768.8" cy="897.9" r="6.45"/><circle fill="#fff" stroke="#000" stroke-width="1.15" cx="783.8" cy="903.5" r="6.45"/><circle fill="#fff" stroke="#000" stroke-width="1.15" cx="761.5" cy="959.9" r="6.45"/><circle fill="#fff" stroke="#000" stroke-width="1.15" cx="791.3" cy="962.5" r="6.45"/><circle fill="#fff" stroke="#000" stroke-width="1.15" cx="776.3" cy="970.4" r="6.45"/><circle fill="#fff" stroke="#000" stroke-width="1.15" cx="776.3" cy="1042.3" r="6.45"/><circle fill="#fff" stroke="#000" stroke-width="1.15" cx="847.3" cy="947.9" r="6.45"/><circle fill="#fff" stroke="#000" stroke-width="1.15" cx="832.3" cy="950.7" r="6.45"/><circle fill="#fff" stroke="#000" stroke-width="1.15" cx="817.6" cy="959.9" r="6.45"/><circle fill="#fff" stroke="#000" stroke-width="1.15" cx="832.3" cy="967.5" r="6.45"/><circle fill="#fff" stroke="#000" stroke-width="1.15" cx="847.5" cy="983.8" r="6.45"/><circle fill="#fff" stroke="#000" stroke-width="1.15" cx="832.3" cy="992.4" r="6.45"/><circle fill="#fff" stroke="#000" stroke-width="1.15" cx="825" cy="1042.3" r="6.45"/><circle fill="#fff" stroke="#000" stroke-width="1.15" cx="839.7" cy="1040" r="6.45"/><text class="tk" transform="translate(550.4 1220.6) scale(0.9246 1)">0</text><text class="tk" transform="translate(550.4 1110.45) scale(0.9246 1)">5</text><text class="tk" transform="translate(550.4 1000.3) scale(0.9246 1)">10</text><text class="tk" transform="translate(550.4 890.15) scale(0.9246 1)">15</text><text class="tk" transform="translate(550.4 780) scale(0.9246 1)">20</text><path d="M606.7 803V793.9H655.7V803" stroke="#111" stroke-width="1.0" fill="none"/><text class="pv" x="588.7" y="787.3"><tspan class="i">P</tspan> &lt; 0.0001</text><path d="M665.6 803V793.9H832.7V803" stroke="#111" stroke-width="1.0" fill="none"/><text class="pv" x="706.4" y="785.5"><tspan class="i">P</tspan> = 0.0212</text><text class="ti" transform="translate(485.5 1163.8) rotate(-90)" x="0" y="0">Plasma TNF-<tspan class="gk">α</tspan> (pg/ml)</text><text class="xl" transform="translate(612.85 1240.7) rotate(-45)">CON</text><text class="xl" transform="translate(668.99 1240.7) rotate(-45)">GC</text><text class="xl" transform="translate(725.12 1240.7) rotate(-45)">GC+GEO<tspan font-size="18" dy="6">Low</tspan></text><text class="xl" transform="translate(781.26 1240.7) rotate(-45)">GC+GEO<tspan font-size="18" dy="6">High</tspan></text><text class="xl" transform="translate(837.4 1240.7) rotate(-45)">GC+CIT</text></g>
<g><text class="lt" x="880.8" y="737.7">g</text><rect x="1008.6" y="1044.3" width="41.6" height="164.9" fill="#6a6975" stroke="#000" stroke-width="1"/><rect x="1064.85" y="956" width="41.6" height="253.2" fill="#f05058" stroke="#000" stroke-width="1"/><rect x="1121.1" y="992.4" width="41.6" height="216.8" fill="#9de564" stroke="#000" stroke-width="1"/><rect x="1177.35" y="980" width="41.6" height="229.2" fill="#10d030" stroke="#000" stroke-width="1"/><rect x="1233.6" y="1014.3" width="41.6" height="194.9" fill="#17a050" stroke="#000" stroke-width="1"/><path d="M995.2 766.7V1209.2M977.7 1209.2H1288.9M977.7 1209.2H995.2M977.7 1120.94H995.2M977.7 1032.68H995.2M977.7 944.42H995.2M977.7 856.16H995.2M977.7 767.9H995.2M1029.4 1209.2V1226.7M1085.65 1209.2V1226.7M1141.9 1209.2V1226.7M1198.15 1209.2V1226.7M1254.4 1209.2V1226.7" stroke="#000" stroke-width="2.4" fill="none" stroke-linecap="butt"/><path d="M1029.4 1001.9V1085.7M1018.5 1001.9H1040.3M1018.5 1085.7H1040.3" stroke="#111" stroke-width="1.1" fill="none"/><path d="M1085.65 875.5V1035.2M1074.75 875.5H1096.55M1074.75 1035.2H1096.55" stroke="#111" stroke-width="1.1" fill="none"/><path d="M1141.9 958.5V1026.3M1131 958.5H1152.8M1131 1026.3H1152.8" stroke="#111" stroke-width="1.1" fill="none"/><path d="M1198.15 946.6V1012M1187.25 946.6H1209.05M1187.25 1012H1209.05" stroke="#111" stroke-width="1.1" fill="none"/><path d="M1254.4 984.2V1042.8M1243.5 984.2H1265.3M1243.5 1042.8H1265.3" stroke="#111" stroke-width="1.1" fill="none"/><circle fill="#fff" stroke="#000" stroke-width="1.15" cx="1044.5" cy="976.8" r="6.45"/><circle fill="#fff" stroke="#000" stroke-width="1.15" cx="1014.6" cy="988.3" r="6.45"/><circle fill="#fff" stroke="#000" stroke-width="1.15" cx="1029.3" cy="1029.1" r="6.45"/><circle fill="#fff" stroke="#000" stroke-width="1.15" cx="1014.6" cy="1052.3" r="6.45"/><circle fill="#fff" stroke="#000" stroke-width="1.15" cx="1044.5" cy="1058.1" r="6.45"/><circle fill="#fff" stroke="#000" stroke-width="1.15" cx="1014.6" cy="1075.6" r="6.45"/><circle fill="#fff" stroke="#000" stroke-width="1.15" cx="1044.5" cy="1075.6" r="6.45"/><circle fill="#fff" stroke="#000" stroke-width="1.15" cx="1029.3" cy="1093.3" r="6.45"/><circle fill="#fff" stroke="#000" stroke-width="1.15" cx="1085.6" cy="814.4" r="6.45"/><circle fill="#fff" stroke="#000" stroke-width="1.15" cx="1085.6" cy="872.7" r="6.45"/><circle fill="#fff" stroke="#000" stroke-width="1.15" cx="1100.9" cy="947.6" r="6.45"/><circle fill="#fff" stroke="#000" stroke-width="1.15" cx="1070.8" cy="960" r="6.45"/><circle fill="#fff" stroke="#000" stroke-width="1.15" cx="1100.8" cy="965.5" r="6.45"/><circle fill="#fff" stroke="#000" stroke-width="1.15" cx="1085.5" cy="999" r="6.45"/><circle fill="#fff" stroke="#000" stroke-width="1.15" cx="1085.4" cy="1017.5" r="6.45"/><circle fill="#fff" stroke="#000" stroke-width="1.15" cx="1085.4" cy="1064.3" r="6.45"/><circle fill="#fff" stroke="#000" stroke-width="1.15" cx="1127" cy="953.5" r="6.45"/><circle fill="#fff" stroke="#000" stroke-width="1.15" cx="1142" cy="959.7" r="6.45"/><circle fill="#fff" stroke="#000" stroke-width="1.15" cx="1156.9" cy="959.7" r="6.45"/><circle fill="#fff" stroke="#000" stroke-width="1.15" cx="1134.5" cy="983" r="6.45"/><circle fill="#fff" stroke="#000" stroke-width="1.15" cx="1149.4" cy="988.7" r="6.45"/><circle fill="#fff" stroke="#000" stroke-width="1.15" cx="1142" cy="1011.8" r="6.45"/><circle fill="#fff" stroke="#000" stroke-width="1.15" cx="1142" cy="1029.5" r="6.45"/><circle fill="#fff" stroke="#000" stroke-width="1.15" cx="1142" cy="1046.6" r="6.45"/><circle fill="#fff" stroke="#000" stroke-width="1.15" cx="1198" cy="925" r="6.45"/><circle fill="#fff" stroke="#000" stroke-width="1.15" cx="1198" cy="953.9" r="6.45"/><circle fill="#fff" stroke="#000" stroke-width="1.15" cx="1183.6" cy="971.3" r="6.45"/><circle fill="#fff" stroke="#000" stroke-width="1.15" cx="1213.1" cy="971.3" r="6.45"/><circle fill="#fff" stroke="#000" stroke-width="1.15" cx="1198" cy="977" r="6.45"/><circle fill="#fff" stroke="#000" stroke-width="1.15" cx="1198.2" cy="994.2" r="6.45"/><circle fill="#fff" stroke="#000" stroke-width="1.15" cx="1198.2" cy="1011.8" r="6.45"/><circle fill="#fff" stroke="#000" stroke-width="1.15" cx="1198.2" cy="1029.5" r="6.45"/><circle fill="#fff" stroke="#000" stroke-width="1.15" cx="1254.3" cy="982.8" r="6.45"/><circle fill="#fff" stroke="#000" stroke-width="1.15" cx="1247.3" cy="1000" r="6.45"/><circle fill="#fff" stroke="#000" stroke-width="1.15" cx="1254.3" cy="998.1" r="6.45"/><circle fill="#fff" stroke="#000" stroke-width="1.15" cx="1239.7" cy="1006.3" r="6.45"/><circle fill="#fff" stroke="#000" stroke-width="1.15" cx="1262.1" cy="1005.7" r="6.45"/><circle fill="#fff" stroke="#000" stroke-width="1.15" cx="1269.8" cy="1011.8" r="6.45"/><circle fill="#fff" stroke="#000" stroke-width="1.15" cx="1254.3" cy="1017.5" r="6.45"/><circle fill="#fff" stroke="#000" stroke-width="1.15" cx="1254.3" cy="1081.5" r="6.45"/><text class="tk" transform="translate(971.6 1221.1) scale(0.9246 1)">0</text><text class="tk" transform="translate(971.6 1132.84) scale(0.9246 1)">5</text><text class="tk" transform="translate(971.6 1044.58) scale(0.9246 1)">10</text><text class="tk" transform="translate(971.6 956.32) scale(0.9246 1)">15</text><text class="tk" transform="translate(971.6 868.06) scale(0.9246 1)">20</text><text class="tk" transform="translate(971.6 779.8) scale(0.9246 1)">25</text><path d="M1030.5 799.6V790.5H1079.6V799.6" stroke="#111" stroke-width="1.0" fill="none"/><text class="pv" x="1012.8" y="780.8"><tspan class="i">P</tspan> = 0.0149</text><path d="M1089.7 799.6V790.5H1257.7V799.6" stroke="#111" stroke-width="1.0" fill="none"/><text class="pv" x="1130.1" y="779.9"><tspan class="i">P</tspan> = 0.1044</text><text class="ti" transform="translate(914 1143.7) rotate(-90)" x="0" y="0">Plasma IL-6 (pg/ml)</text><text class="xl" transform="translate(1034.4 1241.2) rotate(-45)">CON</text><text class="xl" transform="translate(1090.65 1241.2) rotate(-45)">GC</text><text class="xl" transform="translate(1146.9 1241.2) rotate(-45)">GC+GEO<tspan font-size="18" dy="6">Low</tspan></text><text class="xl" transform="translate(1203.15 1241.2) rotate(-45)">GC+GEO<tspan font-size="18" dy="6">High</tspan></text><text class="xl" transform="translate(1259.4 1241.2) rotate(-45)">GC+CIT</text></g>
<g><text class="lt" x="1330" y="737.7">h</text><rect x="1467.1" y="1154.7" width="41.6" height="54.9" fill="#6a6975" stroke="#000" stroke-width="1"/><rect x="1523.39" y="1095.5" width="41.6" height="114.1" fill="#f05058" stroke="#000" stroke-width="1"/><rect x="1579.67" y="1154.7" width="41.6" height="54.9" fill="#9de564" stroke="#000" stroke-width="1"/><rect x="1635.96" y="1147.9" width="41.6" height="61.7" fill="#10d030" stroke="#000" stroke-width="1"/><rect x="1692.25" y="1152.6" width="41.6" height="57" fill="#17a050" stroke="#000" stroke-width="1"/><path d="M1453.7 766.7V1209.6M1436.2 1209.6H1747.7M1436.2 1209.6H1453.7M1436.2 1121.26H1453.7M1436.2 1032.92H1453.7M1436.2 944.58H1453.7M1436.2 856.24H1453.7M1436.2 767.9H1453.7M1487.9 1209.6V1227.1M1544.19 1209.6V1227.1M1600.47 1209.6V1227.1M1656.76 1209.6V1227.1M1713.05 1209.6V1227.1" stroke="#000" stroke-width="2.4" fill="none" stroke-linecap="butt"/><path d="M1487.9 1145.4V1164M1477 1145.4H1498.8M1477 1164H1498.8" stroke="#111" stroke-width="1.1" fill="none"/><path d="M1544.19 1013V1177.3M1533.29 1013H1555.09M1533.29 1177.3H1555.09" stroke="#111" stroke-width="1.1" fill="none"/><path d="M1600.47 1144.2V1165M1589.57 1144.2H1611.38M1589.57 1165H1611.38" stroke="#111" stroke-width="1.1" fill="none"/><path d="M1656.76 1135.8V1160M1645.86 1135.8H1667.66M1645.86 1160H1667.66" stroke="#111" stroke-width="1.1" fill="none"/><path d="M1713.05 1144.2V1161M1702.15 1144.2H1723.95M1702.15 1161H1723.95" stroke="#111" stroke-width="1.1" fill="none"/><circle fill="#fff" stroke="#000" stroke-width="1.15" cx="1473" cy="1146.3" r="6.45"/><circle fill="#fff" stroke="#000" stroke-width="1.15" cx="1495.3" cy="1140" r="6.45"/><circle fill="#fff" stroke="#000" stroke-width="1.15" cx="1480.5" cy="1151" r="6.45"/><circle fill="#fff" stroke="#000" stroke-width="1.15" cx="1502.9" cy="1149.6" r="6.45"/><circle fill="#fff" stroke="#000" stroke-width="1.15" cx="1494.5" cy="1153.8" r="6.45"/><circle fill="#fff" stroke="#000" stroke-width="1.15" cx="1487.8" cy="1159.4" r="6.45"/><circle fill="#fff" stroke="#000" stroke-width="1.15" cx="1473" cy="1164.4" r="6.45"/><circle fill="#fff" stroke="#000" stroke-width="1.15" cx="1502.9" cy="1165.6" r="6.45"/><circle fill="#fff" stroke="#000" stroke-width="1.15" cx="1544.1" cy="937.7" r="6.45"/><circle fill="#fff" stroke="#000" stroke-width="1.15" cx="1539" cy="1040.4" r="6.45"/><circle fill="#fff" stroke="#000" stroke-width="1.15" cx="1549.9" cy="1042.9" r="6.45"/><circle fill="#fff" stroke="#000" stroke-width="1.15" cx="1544" cy="1102.1" r="6.45"/><circle fill="#fff" stroke="#000" stroke-width="1.15" cx="1539" cy="1157.2" r="6.45"/><circle fill="#fff" stroke="#000" stroke-width="1.15" cx="1529.4" cy="1163.1" r="6.45"/><circle fill="#fff" stroke="#000" stroke-width="1.15" cx="1549.1" cy="1160.5" r="6.45"/><circle fill="#fff" stroke="#000" stroke-width="1.15" cx="1559.2" cy="1158.3" r="6.45"/><circle fill="#fff" stroke="#000" stroke-width="1.15" cx="1599.5" cy="1140" r="6.45"/><circle fill="#fff" stroke="#000" stroke-width="1.15" cx="1607.6" cy="1139.5" r="6.45"/><circle fill="#fff" stroke="#000" stroke-width="1.15" cx="1593.1" cy="1153.8" r="6.45"/><circle fill="#fff" stroke="#000" stroke-width="1.15" cx="1616.3" cy="1152.1" r="6.45"/><circle fill="#fff" stroke="#000" stroke-width="1.15" cx="1607.6" cy="1157.2" r="6.45"/><circle fill="#fff" stroke="#000" stroke-width="1.15" cx="1585.7" cy="1161.7" r="6.45"/><circle fill="#fff" stroke="#000" stroke-width="1.15" cx="1599.8" cy="1161" r="6.45"/><circle fill="#fff" stroke="#000" stroke-width="1.15" cx="1615.5" cy="1167.8" r="6.45"/><circle fill="#fff" stroke="#000" stroke-width="1.15" cx="1656.6" cy="1127.8" r="6.45"/><circle fill="#fff" stroke="#000" stroke-width="1.15" cx="1641.8" cy="1140.4" r="6.45"/><circle fill="#fff" stroke="#000" stroke-width="1.15" cx="1671.7" cy="1140.4" r="6.45"/><circle fill="#fff" stroke="#000" stroke-width="1.15" cx="1650.2" cy="1142.9" r="6.45"/><circle fill="#fff" stroke="#000" stroke-width="1.15" cx="1656.1" cy="1153.8" r="6.45"/><circle fill="#fff" stroke="#000" stroke-width="1.15" cx="1664.2" cy="1152.1" r="6.45"/><circle fill="#fff" stroke="#000" stroke-width="1.15" cx="1641.8" cy="1158.3" r="6.45"/><circle fill="#fff" stroke="#000" stroke-width="1.15" cx="1671.7" cy="1163" r="6.45"/><circle fill="#fff" stroke="#000" stroke-width="1.15" cx="1698.1" cy="1140" r="6.45"/><circle fill="#fff" stroke="#000" stroke-width="1.15" cx="1710.4" cy="1142.4" r="6.45"/><circle fill="#fff" stroke="#000" stroke-width="1.15" cx="1716.3" cy="1148.8" r="6.45"/><circle fill="#fff" stroke="#000" stroke-width="1.15" cx="1704.2" cy="1148.8" r="6.45"/><circle fill="#fff" stroke="#000" stroke-width="1.15" cx="1698.1" cy="1158" r="6.45"/><circle fill="#fff" stroke="#000" stroke-width="1.15" cx="1709.9" cy="1158.5" r="6.45"/><circle fill="#fff" stroke="#000" stroke-width="1.15" cx="1728.9" cy="1156.7" r="6.45"/><circle fill="#fff" stroke="#000" stroke-width="1.15" cx="1722.1" cy="1160.5" r="6.45"/><text class="tk" transform="translate(1430.1 1221.5) scale(0.9246 1)">0</text><text class="tk" transform="translate(1430.1 1133.16) scale(0.9246 1)">10</text><text class="tk" transform="translate(1430.1 1044.82) scale(0.9246 1)">20</text><text class="tk" transform="translate(1430.1 956.48) scale(0.9246 1)">30</text><text class="tk" transform="translate(1430.1 868.14) scale(0.9246 1)">40</text><text class="tk" transform="translate(1430.1 779.8) scale(0.9246 1)">50</text><path d="M1486.7 805.8V796.7H1535.7V805.8" stroke="#111" stroke-width="1.0" fill="none"/><text class="pv" x="1467.8" y="786.4"><tspan class="i">P</tspan> = 0.0638</text><path d="M1545.6 805.8V796.7H1713.6V805.8" stroke="#111" stroke-width="1.0" fill="none"/><text class="pv" x="1589.2" y="784"><tspan class="i">P</tspan> = 0.0520</text><path d="M1544.6 849.1V840H1656.3V849.1" stroke="#111" stroke-width="1.0" fill="none"/><text class="pv" x="1558.7" y="829.4"><tspan class="i">P</tspan> = 0.0835</text><path d="M1544.6 896.7V887.6H1600.3V896.7" stroke="#111" stroke-width="1.0" fill="none"/><text class="pv" x="1528.8" y="877.5"><tspan class="i">P</tspan> = 0.0413</text><text class="ti" transform="translate(1365.5 1157.9) rotate(-90)" x="0" y="0">Plasma IL-1<tspan class="gk">β</tspan> (pg/ml)</text><text class="xl" transform="translate(1492.9 1241.6) rotate(-45)">CON</text><text class="xl" transform="translate(1549.19 1241.6) rotate(-45)">GC</text><text class="xl" transform="translate(1605.47 1241.6) rotate(-45)">GC+GEO<tspan font-size="18" dy="6">Low</tspan></text><text class="xl" transform="translate(1661.76 1241.6) rotate(-45)">GC+GEO<tspan font-size="18" dy="6">High</tspan></text><text class="xl" transform="translate(1718.05 1241.6) rotate(-45)">GC+CIT</text></g>
</svg></body></html>
